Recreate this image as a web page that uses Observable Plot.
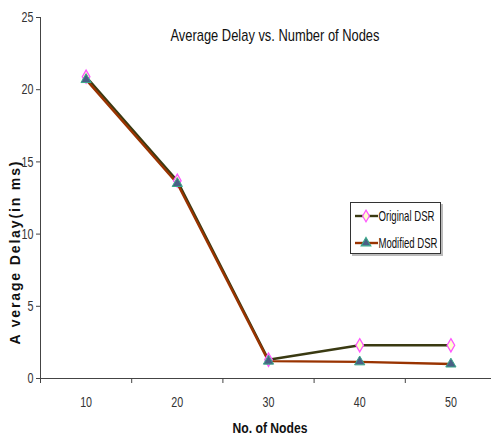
<!DOCTYPE html>
<html>
<head>
<meta charset="utf-8">
<script src="https://cdn.jsdelivr.net/npm/d3@7"></script>
<script src="https://cdn.jsdelivr.net/npm/@observablehq/plot@0.6"></script>
<style>
  html, body { margin: 0; padding: 0; background: #fff; }
  svg { display: block; }
</style>
</head>
<body>
<div id="chart"></div>
<script>
const nodes = [10, 20, 30, 40, 50];
const originalDSR = [20.9, 13.7, 1.3, 2.3, 2.3];
const modifiedDSR = [20.7, 13.5, 1.2, 1.15, 1.0];
const yTicks = [0, 5, 10, 15, 20, 25];
const xBoundaryTicks = [5, 15, 25, 35, 45];
const seriesNames = ["Original DSR", "Modified DSR"];
const title = "Average Delay vs. Number of Nodes";
const xLabel = "No. of Nodes";
const yLabel = "A verage Delay(in ms)";

const orig = nodes.map((n, i) => ({n, v: originalDSR[i]}));
const mod = nodes.map((n, i) => ({n, v: modifiedDSR[i]}));

const font = '"Liberation Sans", Arial, sans-serif';
const colOrig = "#3a3a12", colMod = "#993300";

const plot = Plot.plot({
  width: 491,
  height: 442,
  marginLeft: 40,
  marginRight: 0,
  marginTop: 17,
  marginBottom: 64,
  style: {fontFamily: font, fontSize: "13px", color: "#333", background: "#fff"},
  x: {type: "linear", domain: [5, 55], range: [40, 496]},
  y: {domain: [0, 25], range: [378, 17]},
  marks: [
    Plot.ruleX([5], {stroke: "#444", strokeWidth: 1}),
    Plot.ruleY([0], {stroke: "#444", strokeWidth: 1}),
    Plot.axisY({ticks: yTicks, tickSize: 4, tickPadding: 3, stroke: "#444", fill: "#333", label: null, fontSize: 14.5, className: "cond"}),
    Plot.axisX({ticks: xBoundaryTicks, tickSize: 5, tickFormat: () => "", stroke: "#444", label: null}),
    Plot.axisX({ticks: nodes, tickSize: 0, tickPadding: 18, fill: "#333", label: null, fontSize: 14.5, className: "cond"}),
    Plot.line(orig, {x: "n", y: "v", stroke: colOrig, strokeWidth: 2.4}),
    Plot.line(mod, {x: "n", y: "v", stroke: colMod, strokeWidth: 2.4}),
    Plot.dot(orig, {x: "n", y: "v", symbol: "diamond", r: 4, fill: "#ffffcc", stroke: "#ff55ff", strokeWidth: 1.3}),
    Plot.dot(mod, {x: "n", y: "v", symbol: "triangle", r: 3.8, fill: "#4a5f86", stroke: "#3aa88a", strokeWidth: 1}),
    Plot.text([title], {frameAnchor: "top", dx: 9, dy: 11, fontSize: 17, fill: "#111", className: "title"}),
    Plot.text([xLabel], {frameAnchor: "bottom", dx: 4, dy: 54, fontSize: 15.5, fontWeight: "bold", fill: "#111", className: "xlab"})
  ]
});
document.getElementById("chart").appendChild(plot);

const svg = d3.select(plot);
function condense(sel, factor) {
  sel.each(function() {
    const len = this.getComputedTextLength();
    if (len > 0) {
      this.setAttribute("textLength", (len * factor).toFixed(1));
      this.setAttribute("lengthAdjust", "spacingAndGlyphs");
    }
  });
}
function fit(sel, len) {
  sel.attr("textLength", len).attr("lengthAdjust", "spacingAndGlyphs");
}

// Y label
svg.append("text")
  .attr("transform", "translate(20,253) rotate(-90)")
  .attr("text-anchor", "middle")
  .attr("font-family", font)
  .attr("font-size", 14)
  .attr("font-weight", "bold")
  .attr("fill", "#111")
  .attr("textLength", 183)
  .attr("lengthAdjust", "spacing")
  .text(yLabel);

// Legend
const lg = svg.append("g").attr("transform", "translate(350,202)");
lg.append("rect").attr("x", 2).attr("y", 2).attr("width", 91).attr("height", 52).attr("fill", "#bbb");
lg.append("rect").attr("x", 0.5).attr("y", 0.5).attr("width", 90).attr("height", 51).attr("fill", "#fff").attr("stroke", "#333");
const rows = [
  {name: seriesNames[0], color: colOrig, sym: d3.symbolDiamond, fill: "#ffffcc", stroke: "#ff55ff", y: 14, w: 56},
  {name: seriesNames[1], color: colMod, sym: d3.symbolTriangle, fill: "#4a5f86", stroke: "#3aa88a", y: 41, w: 59}
];
for (const r of rows) {
  lg.append("line").attr("x1", 5).attr("x2", 28).attr("y1", r.y).attr("y2", r.y).attr("stroke", r.color).attr("stroke-width", 2.4);
  lg.append("path").attr("d", d3.symbol(r.sym, 40)()).attr("transform", `translate(16,${r.y})`).attr("fill", r.fill).attr("stroke", r.stroke).attr("stroke-width", 1.2);
  lg.append("text").attr("x", 28.5).attr("y", r.y).attr("dy", "0.36em")
    .attr("text-anchor", "start").attr("font-family", font).attr("font-size", 14.5).attr("fill", "#111")
    .attr("textLength", r.w).attr("lengthAdjust", "spacingAndGlyphs").text(r.name);
}

condense(svg.selectAll(".cond text"), 0.74);
fit(svg.selectAll(".title text"), 209);
fit(svg.selectAll(".xlab text"), 75);
</script>
</body>
</html>
